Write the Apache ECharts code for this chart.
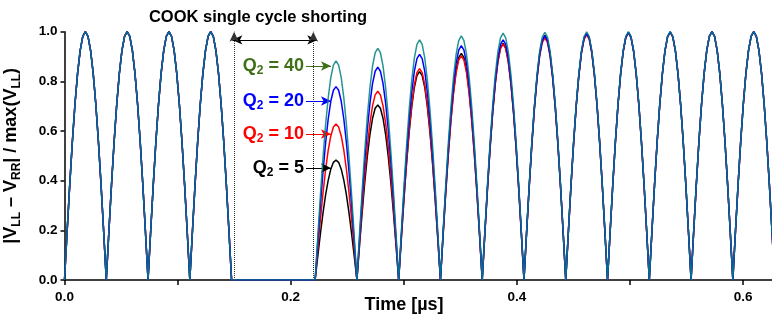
<!DOCTYPE html>
<html>
<head>
<meta charset="utf-8">
<script src="https://cdn.jsdelivr.net/npm/echarts@6/dist/echarts.min.js"></script>
<style>
  html, body { margin: 0; padding: 0; background: #fff; }
  #chart { width: 772px; height: 321px; }
</style>
</head>
<body>
<div id="chart"></div>
<script>
const FONT = "Liberation Sans, Arial, sans-serif"

// half period of the rectified waveform, in µs
const HALF_PERIOD = 0.03693
// normalised profile of one arch
const ARCH_SHAPE = [0, 0.195, 0.383, 0.556, 0.707, 0.831, 0.924, 0.981, 1, 0.981, 0.924, 0.831, 0.707, 0.556, 0.383, 0.195, 0]

// peak of each arch, per Q2 (arches 4 and 5 = shorting)
const PEAKS_Q5  = [1, 1, 1, 1, 0, 0, 0.483, 0.705, 0.839, 0.913, 0.953, 0.985, 0.991, 0.996, 0.998, 1, 1]
const PEAKS_Q10 = [1, 1, 1, 1, 0, 0, 0.628, 0.760, 0.851, 0.903, 0.950, 0.975, 0.988, 0.995, 0.998, 1, 1]
const PEAKS_Q20 = [1, 1, 1, 1, 0, 0, 0.779, 0.857, 0.909, 0.944, 0.967, 0.983, 0.993, 0.997, 0.999, 1, 1]
const PEAKS_Q40 = [1, 1, 1, 1, 0, 0, 0.882, 0.933, 0.967, 0.983, 0.994, 0.997, 0.999, 1, 1, 1, 1]

const SHORT_START = 0.1484
const SHORT_END = 0.2235
const X_MAX = 0.6255

// label arrows: [label, y value]
const Q_LABELS = ["40", "20", "10", "5"]
const Q_ARROW_Y = [0.862, 0.721, 0.588, 0.451]
const Q_ARROW_X = [0.2135, 0.2356]

function buildCurve(peaks) {
  const pts = []
  peaks.forEach((peak, k) => {
    ARCH_SHAPE.forEach((s, i) => {
      if (k > 0 && i === 0) return
      const t = (k + i / (ARCH_SHAPE.length - 1)) * HALF_PERIOD
      pts.push([t, peak * s])
    })
  })
  return pts
}

const labelRich = (color) => ({
  m: { fontSize: 18, fontWeight: "bold", fontFamily: FONT, color: color },
  s: { fontSize: 12, fontWeight: "bold", fontFamily: FONT, color: color, padding: [10, 0, 0, 0] },
})

const labelColors = ["#3f6f17", "#0000ff", "#ff0000", "#000000"]

const arrowLines = Q_LABELS.map((q, i) => [
  {
    coord: [Q_ARROW_X[0], Q_ARROW_Y[i]],
    symbol: "none",
    lineStyle: { color: labelColors[i], width: 1, type: "solid" },
    label: {
      show: true,
      position: "start",
      distance: 2,
      formatter: "{m|Q}{s|2}{m| = " + q + "}",
      rich: labelRich(labelColors[i]),
    },
  },
  { coord: [Q_ARROW_X[1], Q_ARROW_Y[i]], symbol: "arrow" },
])

const chart = echarts.init(document.getElementById("chart"))

const seriesDefs = [
  { name: "Q5", peaks: PEAKS_Q5, color: "#000000" },
  { name: "Q10", peaks: PEAKS_Q10, color: "#ff0000" },
  { name: "Q20", peaks: PEAKS_Q20, color: "#0000ff" },
  { name: "Q40", peaks: PEAKS_Q40, color: "#008080" },
]

const series = seriesDefs.map((d, idx) => ({
  name: d.name,
  type: "line",
  data: buildCurve(d.peaks),
  showSymbol: false,
  animation: false,
  lineStyle: { color: d.color, width: 1.5, opacity: idx === 3 ? 0.85 : 1 },
  z: 2 + idx,
}))

series[3].markLine = {
  silent: true,
  animation: false,
  symbol: ["none", "arrow"],
  symbolSize: [7, 10],
  label: { show: false },
  lineStyle: { color: "#000", width: 1 },
  data: [
    [
      { coord: [SHORT_START, 0.967], symbol: "arrow", lineStyle: { color: "#000", width: 1.2, type: "solid" } },
      { coord: [SHORT_END, 0.967], symbol: "arrow" },
    ],
    { xAxis: SHORT_START, symbol: "none", lineStyle: { color: "#333", width: 1, type: "dotted" } },
    { xAxis: SHORT_END, symbol: "none", lineStyle: { color: "#333", width: 1, type: "dotted" } },
    ...arrowLines,
  ],
}

chart.setOption({
  backgroundColor: "#fff",
  animation: false,
  grid: {
    left: 64.5,
    right: 0,
    top: 31.7,
    bottom: 41,
    containLabel: false,
    outerBoundsMode: "none",
  },
  xAxis: {
    type: "value",
    min: 0,
    max: X_MAX,
    interval: 0.1,
    axisLine: { show: true, onZero: false, lineStyle: { color: "#000", width: 1.5 } },
    axisTick: { show: true, length: 5, lineStyle: { color: "#000", width: 1.5 } },
    splitLine: { show: false },
    axisLabel: {
      margin: 10,
      color: "#000",
      fontSize: 13.5,
      fontWeight: "bold",
      fontFamily: FONT,
      showMaxLabel: false,
      formatter: (v) => {
        const r = v / 0.2
        return Math.abs(r - Math.round(r)) < 1e-6 ? v.toFixed(1) : ""
      },
    },
  },
  yAxis: {
    type: "value",
    min: 0,
    max: 1,
    interval: 0.2,
    name: "{m||V}{s|LL}{m| \u2013 V}{s|RR}{m|| / max(V}{s|LL}{m|)}",
    nameLocation: "middle",
    nameRotate: 90,
    nameGap: 42,
    nameTextStyle: {
      rich: {
        m: { fontSize: 18, fontWeight: "bold", fontFamily: FONT, color: "#000" },
        s: { fontSize: 12, fontWeight: "bold", fontFamily: FONT, color: "#000", padding: [10, 0, 0, 0] },
      },
    },
    axisLine: { show: true, lineStyle: { color: "#000", width: 1.5 } },
    axisTick: { show: true, length: 4, lineStyle: { color: "#000", width: 1.5 } },
    splitLine: { show: false },
    axisLabel: {
      margin: 7,
      color: "#000",
      fontSize: 13.5,
      fontWeight: "bold",
      fontFamily: FONT,
      formatter: (v) => v.toFixed(1),
    },
  },
  graphic: [
    {
      type: "text",
      x: 258,
      y: 17,
      style: {
        text: "COOK single cycle shorting",
        fontSize: 16.5,
        fontWeight: "bold",
        fontFamily: FONT,
        fill: "#000",
        align: "center",
        verticalAlign: "middle",
      },
    },
    {
      type: "text",
      x: 404,
      y: 305,
      style: {
        text: "Time [\u00b5s]",
        fontSize: 18,
        fontWeight: "bold",
        fontFamily: FONT,
        fill: "#000",
        align: "center",
        verticalAlign: "middle",
      },
    },
  ],
  series: series,
})
</script>
</body>
</html>
